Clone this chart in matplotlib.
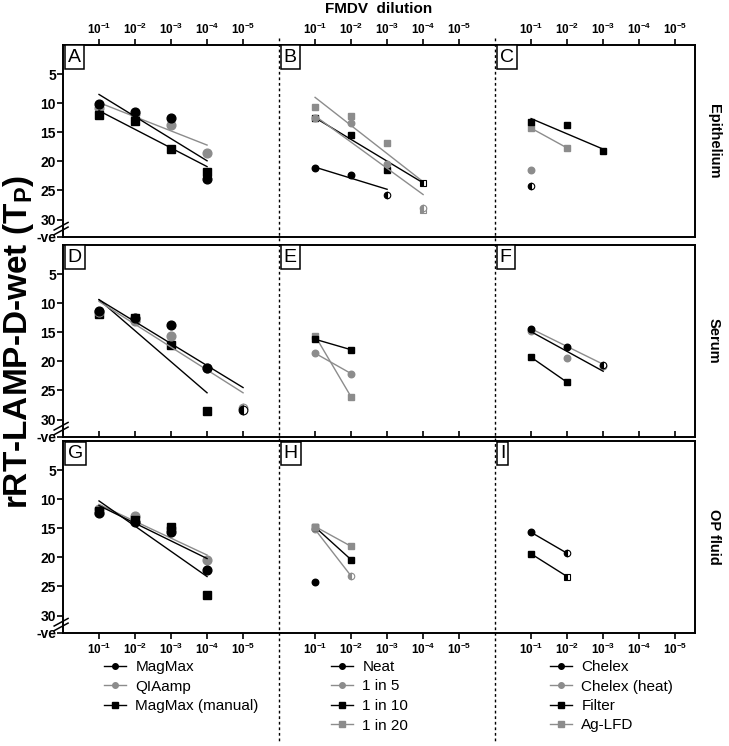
import numpy as np
import matplotlib
matplotlib.use('Agg')
import matplotlib.pyplot as plt
import matplotlib.transforms as mtransforms
from matplotlib.lines import Line2D

plt.rcParams['font.family'] = ['Liberation Sans', 'DejaVu Sans']
plt.rcParams['mathtext.fontset'] = 'custom'
plt.rcParams['mathtext.rm'] = 'Liberation Sans'
plt.rcParams['mathtext.bf'] = 'Liberation Sans:bold'

GREY = '#8c8c8c'

# dilution exponents (10^-d)
dil_labels = [r'$\mathbf{10^{-%d}}$' % d for d in range(1, 6)]
samples = ['Epithelium', 'Serum', 'OP fluid']
letters = ['A', 'B', 'C', 'D', 'E', 'F', 'G', 'H', 'I']

# ---- Panel A : epithelium, extraction method
a_x = [1, 2, 3, 4]
a_magmax = [10.1, 11.5, 12.5, 23.0]
a_qiaamp = [10.9, 11.8, 13.8, 18.5]
a_manual = [12.1, 13.1, 17.8, 21.8]
a_fit_magmax = [8.5, 19.9]
a_fit_qiaamp = [9.9, 17.2]
a_fit_manual = [11.3, 20.9]

# ---- Panel B : epithelium, sample dilution
b_x_neat = [1, 2, 3]
b_neat = [21.1, 22.3, 25.7]
b_x = [1, 2, 3, 4]
b_in5 = [12.6, 13.4, 20.4, 28.0]
b_in10 = [12.5, 15.4, 21.5, 23.8]
b_in20 = [10.7, 12.2, 16.8, 28.3]
b_fit_neat = [21.0, 24.8]
b_fit_in5 = [12.2, 25.7]
b_fit_in10 = [12.5, 23.7]
b_fit_in20 = [9.0, 23.5]

# ---- Panel C : epithelium, simple preparation
c_chelex = [24.3]
c_heat = [21.5]
c_filter = [13.2, 13.8, 18.3]
c_aglfd = [14.3, 17.7]
c_fit_filter = [12.65, 17.9]

# ---- Panel D : serum, extraction method
d_x5 = [1, 2, 3, 4, 5]
d_magmax = [11.4, 12.5, 13.75, 21.1, 28.3]
d_qiaamp = [11.6, 13.1, 15.7, 21.2, 28.0]
d_x4 = [1, 2, 3, 4]
d_manual = [11.8, 12.6, 17.2, 28.6]
d_fit_magmax = [9.4, 24.5]
d_fit_qiaamp = [9.7, 25.4]
d_fit_manual = [9.4, 25.4]

# ---- Panel E : serum, sample dilution
e_in5 = [18.6, 22.1]
e_in10 = [16.2, 18.0]
e_in20 = [15.6, 26.1]

# ---- Panel F : serum, simple preparation
f_chelex = [14.4, 17.6, 20.7]
f_heat = [14.8, 19.4, 20.85]
f_filter = [19.3, 23.6]
f_fit_chelex = [14.9, 21.7]
f_fit_heat = [14.4, 20.5]

# ---- Panel G : OP fluid, extraction method
g_magmax = [12.3, 14.0, 15.7, 22.1]
g_qiaamp = [11.7, 12.9, 15.0, 20.4]
g_manual = [12.0, 13.5, 14.7, 26.5]
g_fit_magmax = [11.1, 20.2]
g_fit_qiaamp = [10.9, 19.6]
g_fit_manual = [10.3, 23.3]

# ---- Panel H : OP fluid, sample dilution
h_neat = [24.2]
h_in5 = [15.2, 23.2]
h_in10 = [14.8, 20.4]
h_in20 = [14.7, 18.1]

# ---- Panel I : OP fluid, simple preparation
i_chelex = [15.7, 19.3]
i_filter = [19.4, 23.3]

col_styles = [
    [('MagMax', 'black', 'o'), ('QIAamp', GREY, 'o'), ('MagMax (manual)', 'black', 's')],
    [('Neat', 'black', 'o'), ('1 in 5', GREY, 'o'), ('1 in 10', 'black', 's'), ('1 in 20', GREY, 's')],
    [('Chelex', 'black', 'o'), ('Chelex (heat)', GREY, 'o'), ('Filter', 'black', 's'), ('Ag-LFD', GREY, 's')],
]

# (style index, x, y, half-filled indices, fit ends)
panels = [
    [
        [(1, a_x, a_qiaamp, [], a_fit_qiaamp), (2, a_x, a_manual, [], a_fit_manual),
         (0, a_x, a_magmax, [], a_fit_magmax)],
        [(0, b_x_neat, b_neat, [2], b_fit_neat), (3, b_x, b_in20, [3], b_fit_in20),
         (2, b_x, b_in10, [3], b_fit_in10), (1, b_x, b_in5, [3], b_fit_in5)],
        [(0, [1], c_chelex, [0], None), (1, [1], c_heat, [], None),
         (3, [1, 2], c_aglfd, [], None), (2, [1, 2, 3], c_filter, [], c_fit_filter)],
    ],
    [
        [(2, d_x4, d_manual, [], d_fit_manual), (1, d_x5, d_qiaamp, [4], d_fit_qiaamp),
         (0, d_x5, d_magmax, [4], d_fit_magmax)],
        [(3, [1, 2], e_in20, [], None), (1, [1, 2], e_in5, [], None),
         (2, [1, 2], e_in10, [], None)],
        [(2, [1, 2], f_filter, [], None), (1, [1, 2, 3], f_heat, [], f_fit_heat),
         (0, [1, 2, 3], f_chelex, [2], f_fit_chelex)],
    ],
    [
        [(1, a_x, g_qiaamp, [], g_fit_qiaamp), (2, a_x, g_manual, [], g_fit_manual),
         (0, a_x, g_magmax, [], g_fit_magmax)],
        [(0, [1], h_neat, [], None), (1, [1, 2], h_in5, [1], None),
         (2, [1, 2], h_in10, [], None), (3, [1, 2], h_in20, [], None)],
        [(0, [1, 2], i_chelex, [1], None), (2, [1, 2], i_filter, [1], None)],
    ],
]

W, H = 729, 746
fig = plt.figure(figsize=(W / 100, H / 100), dpi=100)


def fx(px):
    return px / W


def fy(py):
    return 1 - py / H


left, right = 63, 695
row_tops = [45, 245, 441]
row_h = 192
XMAX = 17.55
col_ms = [6.3, 4.7, 4.7]

xticks = [c * 6 + d for c in range(3) for d in range(1, 6)]
xticklabels = dil_labels * 3

for r, top in enumerate(row_tops):
    ax = fig.add_axes([fx(left), fy(top + row_h), fx(right) - fx(left), row_h / H])
    ax.set_xlim(0, XMAX)
    ax.set_ylim(33, 0)
    for s in ax.spines.values():
        s.set_linewidth(1.4)
    ax.set_yticks([5, 10, 15, 20, 25, 30, 33])
    ax.set_yticklabels(['5', '10', '15', '20', '25', '30', '-ve'], fontsize=10, fontweight='bold')
    ax.tick_params(axis='y', length=4, width=1.2, pad=1)
    ax.set_xticks(xticks)
    ax.set_xticklabels(xticklabels, fontsize=8.5)
    if r == 0:
        ax.tick_params(axis='x', top=True, bottom=False, labeltop=True, labelbottom=False,
                       direction='out', length=4, width=1.2, pad=2)
    elif r == 1:
        ax.tick_params(axis='x', top=False, bottom=True, labeltop=False, labelbottom=False,
                       direction='in', length=4, width=1.2)
    else:
        ax.tick_params(axis='x', top=False, bottom=True, labeltop=False, labelbottom=True,
                       direction='out', length=4, width=1.2, pad=2)

    # axis break marks on the left spine
    trans = mtransforms.blended_transform_factory(ax.transAxes, ax.transData)
    for off in (0, 0.8):
        ax.plot([-0.014, 0.008], [32.6 - off, 31.3 - off], color='black', lw=1.1,
                transform=trans, clip_on=False)

    for c in range(3):
        for si, xs, ys, half, fit in panels[r][c]:
            label, color, marker = col_styles[c][si]
            xs = np.array(xs) + 6 * c
            ys = np.array(ys)
            if fit is not None:
                ax.plot([xs[0], xs[-1]], fit, color=color, lw=1)
            elif len(xs) == 2:
                ax.plot(xs, ys, color=color, lw=1)
            full = np.array([i not in half for i in range(len(xs))])
            ms = col_ms[c] if marker == 'o' else col_ms[c] - 0.4
            ax.plot(xs[full], ys[full], ls='none', marker=marker, ms=ms,
                    mfc=color, mec=color)
            if half:
                ax.plot(xs[~full], ys[~full], ls='none', marker=marker, ms=ms,
                        fillstyle='left', mfc=color, mfcalt='white', mec=color, mew=0.8)

        ax.annotate(letters[r * 3 + c], xy=(c * 6, 0), xycoords='data',
                    xytext=(3.4, -2.6), textcoords='offset points', ha='left', va='top',
                    fontsize=14,
                    bbox=dict(boxstyle='square,pad=0.16', fc='white', ec='black', lw=1.1))

    fig.text(fx(714), fy(top + row_h / 2), samples[r], rotation=270, ha='center',
             va='center', fontsize=10.5, fontweight='bold')

# dotted column dividers
for c in (1, 2):
    xpx = left + (right - left) * (6 * c) / XMAX
    fig.add_artist(Line2D([fx(xpx), fx(xpx)], [fy(38), fy(742)], color='black',
                          lw=1, ls=(0, (2, 2))))

fig.text(fx(379), fy(9), 'FMDV  dilution', ha='center', va='center', fontsize=11,
         fontweight='bold')
fig.text(fx(19), fy(342), r'rRT-LAMP-D-wet (T$_{\mathbf{P}}$)', rotation=90,
         ha='center', va='center', fontsize=24, fontweight='bold')

# legends under each column
leg_x = [104, 331, 550]
for c in range(3):
    handles = [Line2D([], [], color=col, marker=m, ms=4, lw=1) for _, col, m in col_styles[c]]
    names = [n for n, _, _ in col_styles[c]]
    fig.legend(handles, names, loc='upper left', bbox_to_anchor=(fx(leg_x[c]), fy(660)),
               frameon=False, fontsize=11, handlelength=1.45, handletextpad=0.6,
               labelspacing=0.36, borderpad=0, borderaxespad=0)

fig.savefig('out.png', dpi=100)
